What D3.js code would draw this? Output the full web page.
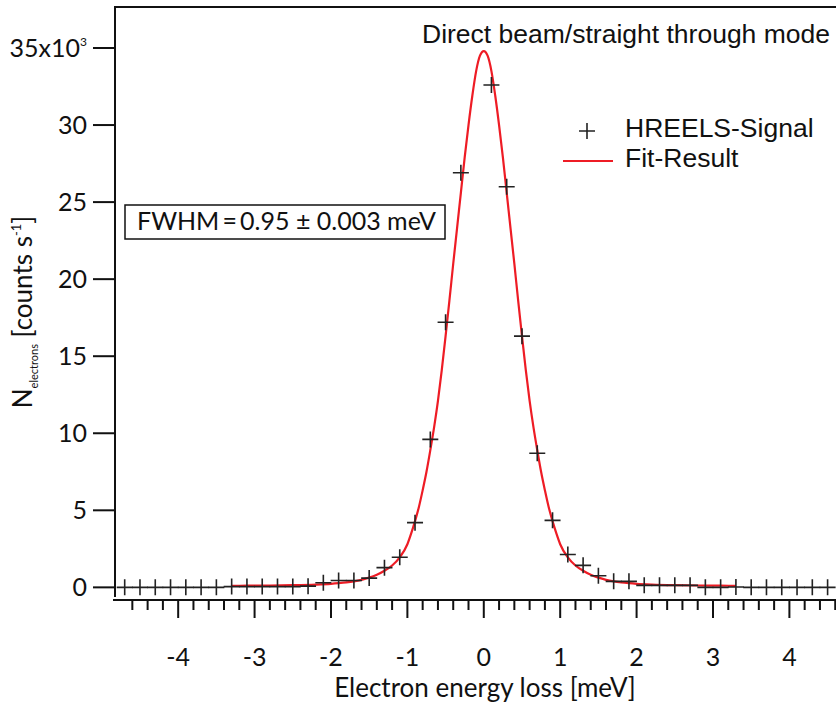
<!DOCTYPE html>
<meta charset="utf-8">
<style>
body { margin: 0; background: #fff; }
.tick-label { font: 25px Lato; fill: #111; }
.axis-title { font: 26px Lato; fill: #111; }
.plain { font: 26.5px "Liberation Sans"; fill: #111; }
.axis { stroke: #111; stroke-width: 2px; fill: none; }
</style>
<body>
<script src="https://d3js.org/d3.v7.min.js"></script>
<script>

// measured HREELS signal (meV, counts/s in 10^3)
const sigX = [-4.7, -4.5, -4.3, -4.1, -3.9, -3.7, -3.5, -3.3, -3.1, -2.9, -2.7, -2.5,
              -2.3, -2.1, -1.9, -1.7, -1.5, -1.3, -1.1, -0.9, -0.7, -0.5, -0.3,
              0.1, 0.3, 0.5, 0.7, 0.9, 1.1, 1.3, 1.5, 1.7, 1.9, 2.1, 2.3, 2.5, 2.7,
              2.9, 3.1, 3.3, 3.5, 3.7, 3.9, 4.1, 4.3, 4.5];
const sigY = [0, 0, 0, 0, 0, 0, 0, 0.05, 0.05, 0.05, 0.05, 0.05,
              0.08, 0.3, 0.45, 0.45, 0.6, 1.28, 1.95, 4.2, 9.6, 17.2, 26.9,
              32.6, 26.0, 16.3, 8.7, 4.35, 2.13, 1.43, 0.75, 0.39, 0.39, 0.13, 0.13, 0.13, 0.13,
              0, 0, 0.02, 0, 0, 0, 0, 0, 0];

// fit curve
const fitX = [-3.3, -3.1, -2.8, -2.5, -2.2, -2.0, -1.9, -1.8, -1.7, -1.6, -1.5, -1.4, -1.3, -1.2, -1.1,
              -1.0, -0.95, -0.9, -0.85, -0.8, -0.75, -0.7, -0.65, -0.6, -0.55, -0.5, -0.45, -0.4,
              -0.35, -0.3, -0.25, -0.2, -0.15, -0.1, -0.05, 0, 0.05, 0.1, 0.15, 0.2, 0.25, 0.3,
              0.35, 0.4, 0.45, 0.5, 0.55, 0.6, 0.65, 0.7, 0.75, 0.8, 0.85, 0.9, 0.95, 1.0,
              1.1, 1.2, 1.3, 1.4, 1.5, 1.6, 1.7, 1.8, 1.9, 2.0, 2.2, 2.5, 2.8, 3.1, 3.3];
const fitY = [0.1, 0.11, 0.12, 0.14, 0.18, 0.23, 0.27, 0.32, 0.39, 0.49, 0.63, 0.82, 1.08, 1.42, 1.95,
              2.8, 3.5, 4.3, 5.2, 6.3, 7.5, 8.9, 10.4, 12.1, 14.1, 16.3, 18.6, 21.0,
              23.3, 25.6, 27.9, 30.0, 31.9, 33.5, 34.5, 34.8, 34.5, 33.5, 31.9, 30.0, 27.9, 25.6,
              23.3, 21.0, 18.6, 16.3, 14.1, 12.1, 10.4, 8.9, 7.5, 6.3, 5.2, 4.3, 3.5, 2.8,
              1.95, 1.42, 1.08, 0.82, 0.63, 0.49, 0.39, 0.32, 0.27, 0.23, 0.18, 0.14, 0.12, 0.11, 0.1];

const yTicks = [0, 5, 10, 15, 20, 25, 30, 35];
const xMajor = [-4, -3, -2, -1, 0, 1, 2, 3, 4];
const xMinor = [-4.6, -4.4, -4.2, -3.8, -3.6, -3.4, -3.2, -2.8, -2.6, -2.4, -2.2,
                -1.8, -1.6, -1.4, -1.2, -0.8, -0.6, -0.4, -0.2, 0.2, 0.4, 0.6, 0.8,
                1.2, 1.4, 1.6, 1.8, 2.2, 2.4, 2.6, 2.8, 3.2, 3.4, 3.6, 3.8, 4.2, 4.4, 4.6];

let width = 836,
    height = 703,
    plotLeft = 115,
    plotTop = 7,
    plotBottom = 600;

let svg = d3.select("body").append("svg")
            .attr("width", width)
            .attr("height", height);

let x = d3.scaleLinear().domain([-4.84, 4.61]).range([plotLeft - 1, width]),
    y = d3.scaleLinear().domain([-0.82, 37.66]).range([plotBottom, plotTop]);

// frame: left axis, top line, bottom axis
svg.append("line").attr("class", "axis")
    .attr("x1", plotLeft).attr("x2", plotLeft).attr("y1", plotTop - 1).attr("y2", 597);
svg.append("line").attr("class", "axis")
    .attr("x1", plotLeft).attr("x2", width).attr("y1", plotTop).attr("y2", plotTop);
svg.append("line").attr("class", "axis")
    .attr("x1", plotLeft - 2).attr("x2", width).attr("y1", plotBottom).attr("y2", plotBottom);

// y ticks
svg.append("g").selectAll("line")
    .data(yTicks)
    .join("line")
        .attr("class", "axis")
        .attr("x1", 93).attr("x2", plotLeft)
        .attr("y1", d => y(d)).attr("y2", d => y(d));

let yLab = svg.append("g").selectAll("text")
    .data(yTicks)
    .join("text")
        .attr("class", "tick-label")
        .attr("x", 87)
        .attr("y", d => y(d))
        .attr("dy", "0.36em")
        .attr("text-anchor", "end")
        .text(d => d == 35 ? "35x10" : d);
yLab.filter(d => d == 35).append("tspan")
    .attr("font-size", 12)
    .attr("dy", "-0.9em")
    .text("3");

// x ticks
svg.append("g").selectAll("line")
    .data(xMinor)
    .join("line")
        .attr("class", "axis")
        .attr("x1", d => x(d)).attr("x2", d => x(d))
        .attr("y1", plotBottom).attr("y2", plotBottom + 10);
svg.append("g").selectAll("line")
    .data(xMajor)
    .join("line")
        .attr("class", "axis")
        .attr("x1", d => x(d)).attr("x2", d => x(d))
        .attr("y1", plotBottom).attr("y2", plotBottom + 18);
svg.append("g").selectAll("text")
    .data(xMajor)
    .join("text")
        .attr("class", "tick-label")
        .attr("x", d => x(d))
        .attr("y", 666)
        .attr("text-anchor", "middle")
        .text(d => d);

// axis titles
svg.append("text")
    .attr("class", "axis-title")
    .attr("x", 485)
    .attr("y", 697)
    .attr("font-size", 25.5)
    .attr("text-anchor", "middle")
    .text("Electron energy loss [meV]");

let yt = svg.append("text")
    .attr("class", "axis-title")
    .attr("transform", "translate(32,312) rotate(-90)")
    .attr("text-anchor", "middle");
yt.append("tspan").text("N");
yt.append("tspan").attr("font-size", 11).attr("dy", 6).text("electrons");
yt.append("tspan").attr("dy", -6).text(" [counts s");
yt.append("tspan").attr("font-size", 13).attr("dy", -11).text("-1");
yt.append("tspan").attr("dy", 11).text("]");

// fit curve
let line = d3.line()
    .x((d, i) => x(fitX[i]))
    .y(d => y(d))
    .curve(d3.curveMonotoneX);

svg.append("path")
    .datum(fitY)
    .attr("fill", "none")
    .attr("stroke", "#ee1c25")
    .attr("stroke-width", 2.2)
    .attr("d", line);

// signal crosses
const cross = "M-8,0H8M0,-8V8";
svg.append("g")
    .selectAll("path")
    .data(sigY)
    .join("path")
        .attr("transform", (d, i) => `translate(${x(sigX[i])},${y(d)})`)
        .attr("d", cross)
        .attr("stroke", "#222")
        .attr("stroke-width", 1.6);

// title
svg.append("text")
    .attr("class", "plain")
    .attr("x", 422)
    .attr("y", 43)
    .text("Direct beam/straight through mode");

// legend
svg.append("path")
    .attr("transform", "translate(587,131)")
    .attr("d", cross)
    .attr("stroke", "#222")
    .attr("stroke-width", 1.6);
svg.append("text").attr("class", "plain").attr("x", 625).attr("y", 137).text("HREELS-Signal");
svg.append("line")
    .attr("x1", 563).attr("x2", 613).attr("y1", 161).attr("y2", 161)
    .attr("stroke", "#ee1c25").attr("stroke-width", 2.2);
svg.append("text").attr("class", "plain").attr("x", 625).attr("y", 167).text("Fit-Result");

// FWHM annotation
svg.append("rect")
    .attr("x", 125).attr("y", 205)
    .attr("width", 320).attr("height", 34)
    .attr("fill", "none")
    .attr("stroke", "#111")
    .attr("stroke-width", 1.5);
svg.append("text")
    .attr("class", "tick-label")
    .attr("x", 137)
    .attr("y", 230)
    .attr("font-size", 22.5)
    .text("FWHM\u2009=\u20090.95 \u00b1 0.003 meV");

</script>
